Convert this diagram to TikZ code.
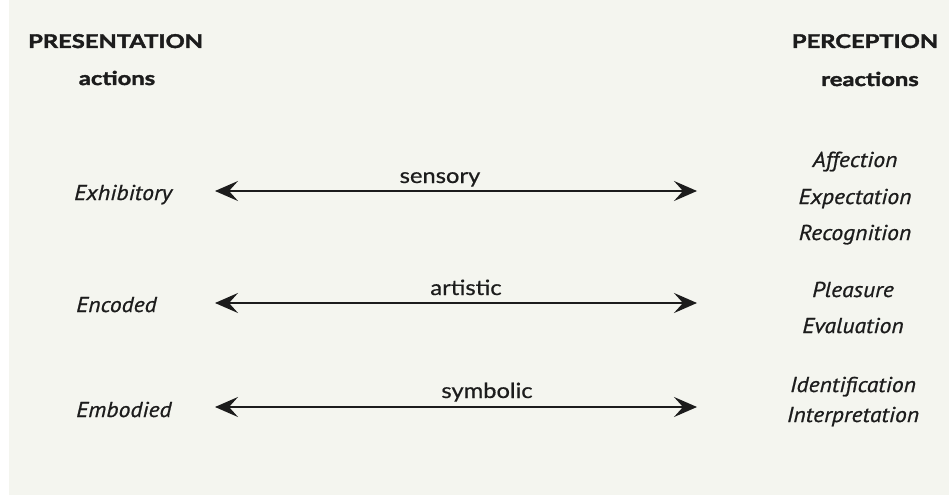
\documentclass[tikz,border=0pt]{standalone}
\usepackage{fontspec}
\setmainfont{Lato}
\newfontfamily\headfont{Lato}[FakeStretch=1.25,FakeBold=2]
\newfontfamily\termfont{PT Sans}[FakeStretch=1.1,FakeBold=0.8]
\newfontfamily\modefont{Lato}[FakeStretch=1.13,FakeBold=0.6]
\usetikzlibrary{arrows.meta}
\definecolor{paper}{HTML}{F4F5EF}
\definecolor{ink}{HTML}{1C1C1C}
\tikzset{
  head/.style={font=\headfont\bfseries\fontsize{19}{21}\selectfont, text=ink, inner sep=0pt},
  subhead/.style={font=\headfont\bfseries\fontsize{19}{21}\selectfont, text=ink, inner sep=0pt},
  term/.style={font=\termfont\itshape\fontsize{21.5}{23}\selectfont, text=ink, inner sep=0pt},
  mode/.style={font=\modefont\fontsize{21}{23}\selectfont, text=ink, inner sep=0pt},
  link/.style={ink, line width=2.2pt, {Stealth[length=23pt,width=20pt,inset=9pt]}-{Stealth[length=23pt,width=20pt,inset=9pt]}}
}
\begin{document}
\begin{tikzpicture}[x=1pt,y=-1pt]
  % page
  \fill[paper] (0,0) rectangle (949,497);
  \fill[white] (0,0) rectangle (9,497);
  \fill[white] (0,495) rectangle (949,497);
  \useasboundingbox (0,0) rectangle (949,497);

  % column headings
  \node[head, anchor=base west] (pres) at (28,48) {PRESENTATION};
  \node[subhead, anchor=base] (act) at (117,85) {actions};
  \node[head, anchor=base] (perc) at (865,48) {PERCEPTION};
  \node[subhead, anchor=base] (react) at (870,86) {reactions};

  % presentation modes
  \node[term, anchor=base west] (exh) at (74,200) {Exhibitory};
  \node[term, anchor=base west] (enc) at (76,312) {Encoded};
  \node[term, anchor=base west] (emb) at (76,417) {Embodied};

  % perception reactions
  \node[term, anchor=base] (aff) at (855,167) {Affection};
  \node[term, anchor=base] (exp) at (855,204) {Expectation};
  \node[term, anchor=base] (rec) at (855,240) {Recognition};
  \node[term, anchor=base] (ple) at (853,297) {Pleasure};
  \node[term, anchor=base] (eva) at (853,333) {Evaluation};
  \node[term, anchor=base] (ide) at (853,392) {Identification};
  \node[term, anchor=base] (int) at (853,422) {Interpretation};

  % two-way links
  \coordinate (s1) at (215,191); \coordinate (s2) at (697,191);
  \coordinate (a1) at (215,303); \coordinate (a2) at (697,303);
  \coordinate (y1) at (215,407); \coordinate (y2) at (697,407);
  \draw[link] (s1) -- (s2);
  \draw[link] (a1) -- (a2);
  \draw[link] (y1) -- (y2);
  \node[mode, anchor=base] (sen) at (440,183) {sensory};
  \node[mode, anchor=base] (art) at (466,295) {artistic};
  \node[mode, anchor=base] (sym) at (487,398) {symbolic};
\end{tikzpicture}
\end{document}
